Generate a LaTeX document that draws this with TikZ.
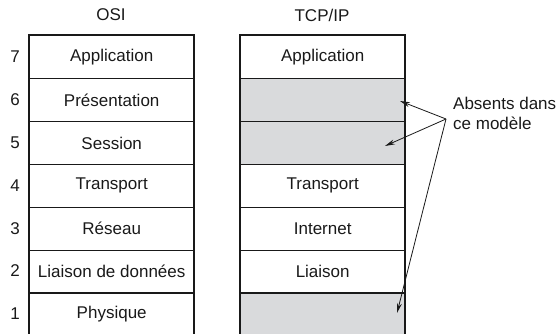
\documentclass[tikz,border=0pt]{standalone}
\usepackage{fontspec}
\setmainfont{Liberation Sans}
\usetikzlibrary{arrows.meta}
\definecolor{cellgray}{RGB}{217,218,220}
\definecolor{ink}{RGB}{25,25,25}
\tikzset{
  x=1pt, y=-1pt,
  txt/.style={font=\fontsize{17}{20}\selectfont, text=ink},
  cell/.style={txt, draw=ink, line width=1.4pt, minimum width=164pt, minimum height=42.9pt, inner sep=0pt, anchor=north west},
  absent/.style={cell, fill=cellgray},
  frame/.style={draw=ink, line width=2pt},
  pointer/.style={draw=ink, line width=0.8pt, -{Stealth[length=10pt,width=5pt]}}
}
\begin{document}
\begin{tikzpicture}
\useasboundingbox (0,0) rectangle (557,334);
\clip (0,0) rectangle (557,334);
% titles
\node[txt] (tosi) at (111,15) {OSI};
\node[txt] (ttcp) at (322,15) {TCP/IP};
% OSI column
\node[cell] (o7) at (29,35) {Application};
\node[cell] (o6) at (29,77.9) {Présentation};
\node[cell] (o5) at (29,120.8) {Session};
\node[cell] (o4) at (29,163.7) {Transport};
\node[cell] (o3) at (29,206.6) {Réseau};
\node[cell] (o2) at (29,249.5) {Liaison de données};
\node[cell] (o1) at (29,292.4) {Physique};
\draw[frame] (o7.north west) rectangle (o1.south east);
% TCP/IP column
\node[cell] (t7) at (240,35) {Application};
\node[absent] (t6) at (240,77.9) {};
\node[absent] (t5) at (240,120.8) {};
\node[cell] (t4) at (240,163.7) {Transport};
\node[cell] (t3) at (240,206.6) {Internet};
\node[cell] (t2) at (240,249.5) {Liaison};
\node[absent] (t1) at (240,292.4) {};
\draw[frame] (t7.north west) rectangle (t1.south east);
% layer numbers
\node[txt] (n7) at (15,57) {7};
\node[txt] (n6) at (15,100) {6};
\node[txt] (n5) at (15,143) {5};
\node[txt] (n4) at (15,186) {4};
\node[txt] (n3) at (15,228.5) {3};
\node[txt] (n2) at (15,271) {2};
\node[txt] (n1) at (15,314) {1};
% annotation
\node[txt, anchor=west, align=left, inner sep=0pt] (note) at (453,113) {Absents dans\\ce modèle};
\coordinate (src) at (446,119);
\coordinate (a6) at (400,101);
\coordinate (a5) at (385,146);
\coordinate (a1) at (397,313);
\draw[pointer] (src) -- (a6);
\draw[pointer] (src) -- (a5);
\draw[pointer] (src) -- (a1);
\end{tikzpicture}
\end{document}
